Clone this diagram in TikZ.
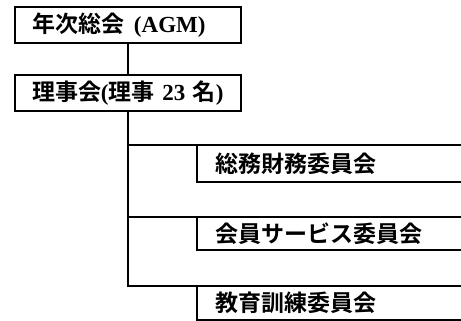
\documentclass[tikz,border=0pt]{standalone}
\usepackage{fontspec}
\setmainfont{Liberation Serif}
\newfontfamily\jp{Noto Sans CJK JP}[BoldFont={Noto Sans CJK JP Bold}]
\newcommand{\J}[1]{{\jp\bfseries #1}}
\begin{document}
\begin{tikzpicture}[x=1pt,y=-1pt,
  topbox/.style={draw=black,line width=1.8pt,minimum width=226pt,minimum height=36pt,
    text width=192pt,inner xsep=17pt,inner ysep=0pt,align=left,font=\fontsize{23}{26}\selectfont\bfseries},
  combox/.style={draw=none,minimum width=264pt,
    text width=228pt,inner xsep=18pt,inner ysep=0pt,align=left,font=\fontsize{23}{26}\selectfont\bfseries},
  edge/.style={line width=1.8pt,line cap=rect},
  open/.style={line width=1.8pt}]
\useasboundingbox (0,0) rectangle (461,321);
\node[topbox] (agm) at (128,25) {\J{年次総会}\hspace{10pt}(AGM)};
\node[topbox] (board) at (128,93) {\J{理事会}(\J{理事} 23 \J{名})};
\node[combox,minimum height=37pt] (c1) at (329,163.5) {\J{総務財務委員会}};
\node[combox,minimum height=33pt] (c2) at (329,233.5) {\J{会員サービス委員会}};
\node[combox,minimum height=34pt] (c3) at (329,303) {\J{教育訓練委員会}};
\draw[edge] (agm.south) -- (board.north);
\draw[edge] (board.south) |- (c3.north west);
\draw[edge] (board.south |- c1.north) -- (c1.north west);
\draw[edge] (board.south |- c2.north) -- (c2.north west);
\foreach \c in {c1,c2,c3}
  \draw[open] (\c.north east) -- (\c.north west) -- (\c.south west) -- (\c.south east);
\end{tikzpicture}
\end{document}
